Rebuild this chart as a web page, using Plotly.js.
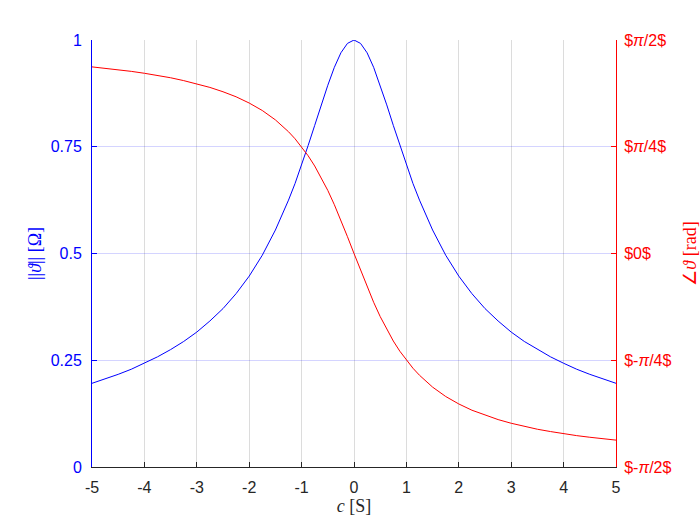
<!DOCTYPE html>
<html>
<head>
<meta charset="utf-8">
<script src="https://cdn.plot.ly/plotly-3.0.1.min.js"></script>
<style>html,body{margin:0;padding:0;background:#fff;}#chart{width:700px;height:525px;}</style>
</head>
<body>
<div id="chart"></div>
<script>
// frequency axis values c [S]
var cValues = [-5, -4.75, -4.5, -4.25, -4, -3.75, -3.5, -3.25, -3, -2.75, -2.5, -2.25, -2, -1.75, -1.5, -1.375, -1.25, -1.125, -1, -0.875, -0.75, -0.625, -0.5, -0.375, -0.25, -0.125, 0,
               0.125, 0.25, 0.375, 0.5, 0.625, 0.75, 0.875, 1, 1.125, 1.25, 1.375, 1.5, 1.75, 2, 2.25, 2.5, 2.75, 3, 3.25, 3.5, 3.75, 4, 4.25, 4.5, 4.75, 5];
// magnitude ||theta|| [Ohm]
var magnitude = [0.196, 0.206, 0.217, 0.229, 0.243, 0.258, 0.275, 0.294, 0.316, 0.342, 0.371, 0.406, 0.447, 0.496, 0.555, 0.588, 0.625, 0.664, 0.707, 0.753, 0.800, 0.848, 0.894, 0.936, 0.970, 0.992, 1.000,
                 0.992, 0.970, 0.936, 0.894, 0.848, 0.800, 0.753, 0.707, 0.664, 0.625, 0.588, 0.555, 0.496, 0.447, 0.406, 0.371, 0.342, 0.316, 0.294, 0.275, 0.258, 0.243, 0.229, 0.217, 0.206, 0.196];
// phase angle [rad]
var phase = [1.373, 1.363, 1.352, 1.340, 1.326, 1.310, 1.293, 1.272, 1.249, 1.222, 1.190, 1.153, 1.107, 1.052, 0.983, 0.942, 0.896, 0.844, 0.785, 0.719, 0.644, 0.559, 0.464, 0.359, 0.245, 0.124, 0.000,
             -0.124, -0.245, -0.359, -0.464, -0.559, -0.644, -0.719, -0.785, -0.844, -0.896, -0.942, -0.983, -1.052, -1.107, -1.153, -1.190, -1.222, -1.249, -1.272, -1.293, -1.310, -1.326, -1.340, -1.352, -1.363, -1.373];
var xTicks = [-5, -4, -3, -2, -1, 0, 1, 2, 3, 4, 5];
var xTickText = ['-5', '-4', '-3', '-2', '-1', '0', '1', '2', '3', '4', '5'];
var yTicks = [0, 0.25, 0.5, 0.75, 1];
var yTickText = ['0', '0.25', '0.5', '0.75', '1'];
var y2Ticks = [-Math.PI / 2, -Math.PI / 4, 0, Math.PI / 4, Math.PI / 2];
var y2TickText = ['$-<i>π</i>/2$', '$-<i>π</i>/4$', '$0$', '$<i>π</i>/4$', '$<i>π</i>/2$'];

var tickFont = {family: 'Liberation Sans, Arial, sans-serif', size: 16};
var titleFont = {family: 'Liberation Serif, Times New Roman, serif', size: 18};

var data = [
  {x: cValues, y: magnitude, type: 'scatter', mode: 'lines', line: {color: '#0000ff', width: 1}, yaxis: 'y', showlegend: false, hoverinfo: 'skip'},
  {x: cValues, y: phase, type: 'scatter', mode: 'lines', line: {color: '#ff0000', width: 1}, yaxis: 'y2', showlegend: false, hoverinfo: 'skip'}
];

var layout = {
  width: 700, height: 525,
  margin: {l: 92, r: 84, t: 40, b: 58, pad: 0},
  paper_bgcolor: '#ffffff', plot_bgcolor: '#ffffff',
  xaxis: {
    range: [-5, 5], tickmode: 'array', tickvals: xTicks, ticktext: xTickText,
    ticks: 'inside', ticklen: 5, tickcolor: '#262626', tickwidth: 1,
    showline: true, linecolor: '#262626', linewidth: 1,
    showgrid: true, gridcolor: '#dcdcdc', gridwidth: 1, zeroline: false,
    ticklabelstandoff: 6,
    tickfont: Object.assign({color: '#262626'}, tickFont),
    title: {text: '<i>c</i> [S]', font: Object.assign({color: '#262626'}, titleFont), standoff: 4}
  },
  yaxis: {
    range: [0, 1], tickmode: 'array', tickvals: yTicks, ticktext: yTickText,
    ticks: 'inside', ticklen: 5, tickcolor: '#0000ff', tickwidth: 1,
    showline: true, linecolor: '#0000ff', linewidth: 1,
    showgrid: true, gridcolor: 'rgba(0,0,255,0.17)', gridwidth: 1, zeroline: false,
    ticklabelstandoff: 6,
    tickfont: Object.assign({color: '#0000ff'}, tickFont),
    title: {text: '||<i>ϑ</i>|| [Ω]', font: Object.assign({color: '#0000ff'}, titleFont), standoff: 4}
  },
  yaxis2: {
    range: [-Math.PI / 2, Math.PI / 2], overlaying: 'y', side: 'right', anchor: 'x',
    tickmode: 'array', tickvals: y2Ticks, ticktext: y2TickText,
    ticks: 'inside', ticklen: 5, tickcolor: '#ff0000', tickwidth: 1,
    showline: true, linecolor: '#ff0000', linewidth: 1,
    showgrid: false, zeroline: false,
    ticklabelstandoff: 4,
    tickfont: Object.assign({color: '#ff0000'}, tickFont),
    title: {text: '∠<i>ϑ</i> [rad]', font: Object.assign({color: '#ff0000'}, titleFont), standoff: 12}
  }
};

Plotly.newPlot('chart', data, layout, {staticPlot: true, displayModeBar: false});
</script>
</body>
</html>
